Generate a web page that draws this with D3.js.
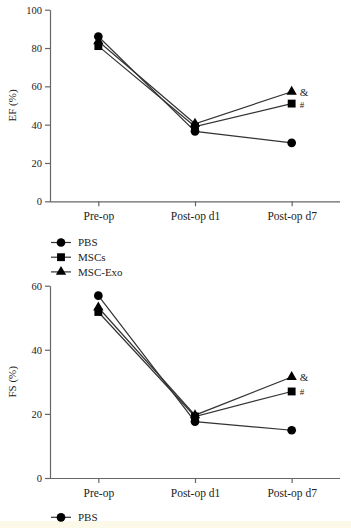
<!DOCTYPE html>
<html><head><meta charset="utf-8">
<script src="https://cdn.jsdelivr.net/npm/d3@7"></script>
<style>
html,body{margin:0;padding:0;background:#fff;}
svg{display:block;}
text{font-family:"Liberation Serif","DejaVu Serif",serif;fill:#222;}
</style></head>
<body>
<script>
const categories = ["Pre-op", "Post-op d1", "Post-op d7"];
const seriesNames = ["PBS", "MSCs", "MSC-Exo"];
const efPBS = [86, 36.5, 30.5];
const efMSCs = [81, 39, 51];
const efExo = [83.5, 40.5, 57.2];
const fsPBS = [56.9, 17.6, 14.9];
const fsMSCs = [51.8, 19.2, 27];
const fsExo = [53.2, 19.6, 31.5];
const efTicks = [0, 20, 40, 60, 80, 100];
const fsTicks = [0, 20, 40, 60];
const marks = {"MSC-Exo": "&", "MSCs": "#"};

const W = 351, H = 528;
const svg = d3.select("body").append("svg").attr("width", W).attr("height", H);

// faint yellow strip at bottom
svg.append("rect").attr("x", 0).attr("y", 521).attr("width", W).attr("height", H - 521).attr("fill", "#fdf9e8");

const symbolFor = {"PBS": d3.symbolCircle, "MSCs": d3.symbolSquare, "MSC-Exo": d3.symbolTriangle};
const sizeFor = {"PBS": 60, "MSCs": 62, "MSC-Exo": 46};

function chart(cfg) {
  const x = d3.scalePoint().domain(categories).range([50, 340]).padding(0.5);
  const y = d3.scaleLinear().domain([0, cfg.max]).range([cfg.bottom, cfg.top]);
  const g = svg.append("g");

  const yAxis = g.append("g").attr("transform", "translate(50,0)")
    .call(d3.axisLeft(y).tickValues(cfg.ticks).tickSize(5).tickPadding(3).tickSizeOuter(0));
  const xAxis = g.append("g").attr("transform", `translate(0,${cfg.bottom})`)
    .call(d3.axisBottom(x).tickSize(5).tickPadding(6).tickSizeOuter(0));
  [yAxis, xAxis].forEach(a => {
    a.select(".domain").attr("stroke", "#666").attr("stroke-width", 1.2);
    a.selectAll(".tick line").attr("stroke", "#666").attr("stroke-width", 1.2);
  });
  // extend x axis domain line to full range
  xAxis.select(".domain").attr("d", "M50,0.5H340");
  yAxis.selectAll(".tick text").attr("font-size", 10.5).attr("font-family", "Liberation Serif").attr("fill", "#222");
  xAxis.selectAll(".tick text").attr("font-size", 11.5).attr("font-family", "Liberation Serif").attr("fill", "#222");

  g.append("text")
    .attr("transform", `translate(16,${(cfg.top + cfg.bottom) / 2}) rotate(-90)`)
    .attr("text-anchor", "middle").attr("font-size", 11).text(cfg.label);

  const line = d3.line().x((d, i) => x(categories[i])).y(d => y(d));
  const order = ["MSC-Exo", "MSCs", "PBS"];
  order.forEach(name => {
    const vals = cfg.data[name];
    g.append("path").attr("d", line(vals)).attr("fill", "none")
      .attr("stroke", "#333").attr("stroke-width", 1.2);
  });
  order.forEach(name => {
    const vals = cfg.data[name];
    g.selectAll(null).data(vals).enter().append("path")
      .attr("transform", (d, i) => `translate(${x(categories[i])},${y(d)})`)
      .attr("d", d3.symbol().type(symbolFor[name]).size(sizeFor[name]))
      .attr("fill", "#000");
    if (marks[name]) {
      const last = vals[vals.length - 1];
      g.append("text").attr("x", x(categories[2]) + 8).attr("y", y(last) + 4)
        .attr("font-size", marks[name] === "#" ? 9 : 11).text(marks[name]);
    }
  });
}

function legend(names, y0) {
  names.forEach((name, i) => {
    const yy = y0 + i * 14.7;
    svg.append("line").attr("x1", 51).attr("x2", 71).attr("y1", yy).attr("y2", yy)
      .attr("stroke", "#333").attr("stroke-width", 1.2);
    svg.append("path").attr("transform", `translate(61,${yy})`)
      .attr("d", d3.symbol().type(symbolFor[name]).size(sizeFor[name])).attr("fill", "#000");
    svg.append("text").attr("x", 78).attr("y", yy + 3.8).attr("font-size", 11).text(name);
  });
}

chart({max: 100, top: 9.7, bottom: 201.3, ticks: efTicks, label: "EF (%)",
  data: {"PBS": efPBS, "MSCs": efMSCs, "MSC-Exo": efExo}});
legend(seriesNames, 242.5);
chart({max: 60, top: 285.7, bottom: 478, ticks: fsTicks, label: "FS (%)",
  data: {"PBS": fsPBS, "MSCs": fsMSCs, "MSC-Exo": fsExo}});
legend(["PBS"], 517.3);
</script>
</body></html>
